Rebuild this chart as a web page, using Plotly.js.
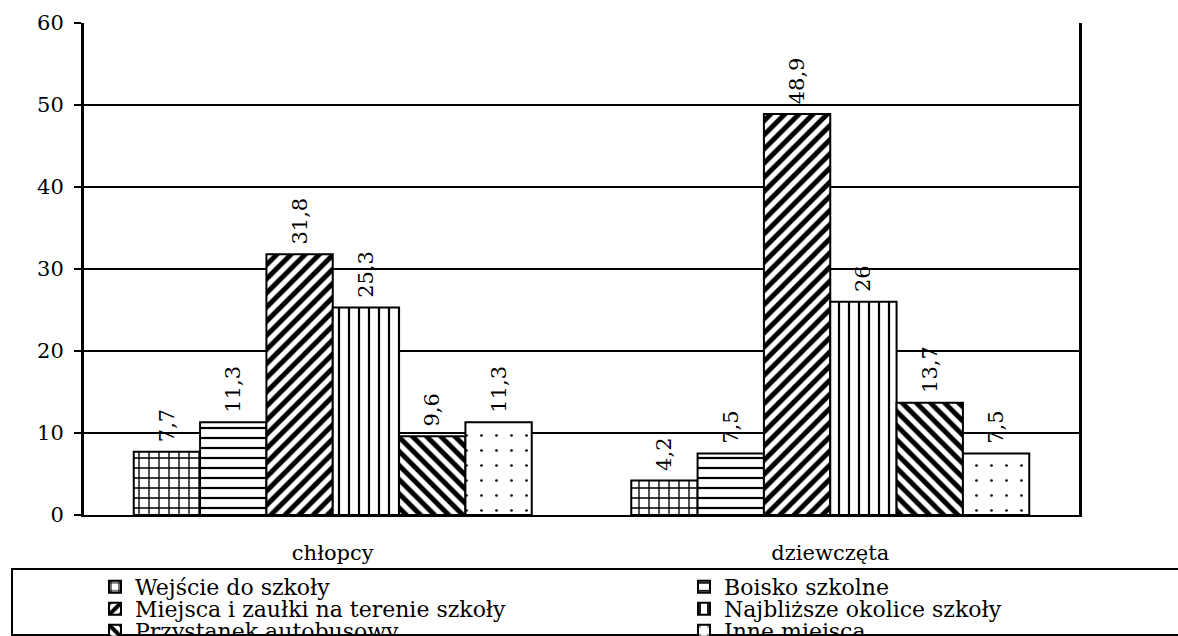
<!DOCTYPE html>
<html>
<head>
<meta charset="utf-8">
<script src="https://cdn.plot.ly/plotly-3.0.1.min.js"></script>
<style>
  html, body { margin: 0; padding: 0; background: #ffffff; overflow: hidden; }
  #chart { width: 1178px; height: 636px; }
</style>
</head>
<body>
<div id="chart"></div>
<script>
// ---- data ----
const categories = ['chłopcy', 'dziewczęta'];
const seriesNames = [
  'Wejście do szkoły',
  'Boisko szkolne',
  'Miejsca i zaułki na terenie szkoły',
  'Najbliższe okolice szkoły',
  'Przystanek autobusowy',
  'Inne miejsca'
];
const wejscie = [7.7, 4.2];
const boisko = [11.3, 7.5];
const miejsca = [31.8, 48.9];
const okolice = [25.3, 26];
const przystanek = [9.6, 13.7];
const inne = [11.3, 7.5];
const yTickValues = [0, 10, 20, 30, 40, 50, 60];

// ---- styling ----
const FONT = 'DejaVu Serif';
const W = 1178, H = 636;
const plotLeft = 84, plotRight = 1079, plotTop = 23, plotBottom = 515;

const patterns = [
  { shape: '+', size: 10, solidity: 0.25 },
  { shape: '-', size: 10, solidity: 0.22 },
  { shape: '/', size: 10, solidity: 0.5 },
  { shape: '|', size: 10, solidity: 0.22 },
  { shape: '\\', size: 10, solidity: 0.5 },
  { shape: '.', size: 15, solidity: 0.025 }
];
const seriesValues = [wejscie, boisko, miejsca, okolice, przystanek, inne];
const legendIds = ['legend', 'legend2', 'legend3', 'legend4', 'legend5', 'legend6'];

// legend item placement (text start x, text centre y) in pixels
const legendCols = [135, 724];
const legendRows = [587, 609, 631];

const fmt = v => '\u00a0' + String(v).replace('.', ',');

const traces = seriesValues.map((vals, i) => ({
  type: 'bar',
  name: seriesNames[i],
  x: categories,
  y: vals,
  text: vals.map(fmt),
  textposition: 'outside',
  textangle: -90,
  constraintext: 'none',
  cliponaxis: false,
  textfont: { family: FONT, size: 21, color: '#000000' },
  hoverinfo: 'x+y+name',
  legend: legendIds[i],
  marker: {
    color: '#ffffff',
    line: { color: '#000000', width: 2 },
    pattern: Object.assign({ fgcolor: '#000000', bgcolor: '#ffffff', fillmode: 'replace' }, patterns[i])
  }
}));

const layout = {
  width: W,
  height: H,
  paper_bgcolor: '#ffffff',
  plot_bgcolor: '#ffffff',
  font: { family: FONT, size: 21, color: '#000000' },
  margin: { l: plotLeft, r: W - plotRight, t: plotTop, b: H - plotBottom, pad: 0, autoexpand: false },
  barmode: 'group',
  bargap: 0.2,
  bargroupgap: 0,
  xaxis: {
    type: 'category',
    showline: true,
    linecolor: '#000000',
    linewidth: 2,
    ticks: '',
    showgrid: false,
    tickfont: { family: FONT, size: 21, color: '#000000' },
    ticklabelstandoff: 18
  },
  yaxis: {
    range: [0, 60],
    tickvals: yTickValues,
    ticktext: yTickValues.map(String),
    showline: true,
    mirror: true,
    linecolor: '#000000',
    linewidth: 3,
    ticks: 'outside',
    ticklen: 7,
    tickwidth: 2,
    tickcolor: '#000000',
    showgrid: true,
    gridcolor: '#000000',
    gridwidth: 2,
    zeroline: false,
    tickfont: { family: FONT, size: 21, color: '#000000' },
    ticklabelstandoff: 6
  },
  shapes: [{
    type: 'rect',
    xref: 'paper', yref: 'paper',
    x0: (12 - plotLeft) / (plotRight - plotLeft),
    x1: (1200 - plotLeft) / (plotRight - plotLeft),
    y0: (plotBottom - 569) / (plotBottom - plotTop),
    y1: (plotBottom - 635) / (plotBottom - plotTop),
    line: { color: '#000000', width: 2 },
    fillcolor: 'rgba(0,0,0,0)',
    layer: 'below'
  }],
  showlegend: true
};

legendIds.forEach((id, i) => {
  const col = i % 2, row = Math.floor(i / 2);
  layout[id] = {
    xref: 'container', yref: 'container',
    x: (legendCols[col] - 40) / W,
    y: 1 - legendRows[row] / H,
    xanchor: 'left',
    yanchor: 'middle',
    bgcolor: 'rgba(0,0,0,0)',
    borderwidth: 0,
    font: { family: FONT, size: 22, color: '#000000' },
    itemclick: false,
    itemdoubleclick: false
  };
});

Plotly.newPlot('chart', traces, layout, { displayModeBar: false, staticPlot: true });
</script>
</body>
</html>
